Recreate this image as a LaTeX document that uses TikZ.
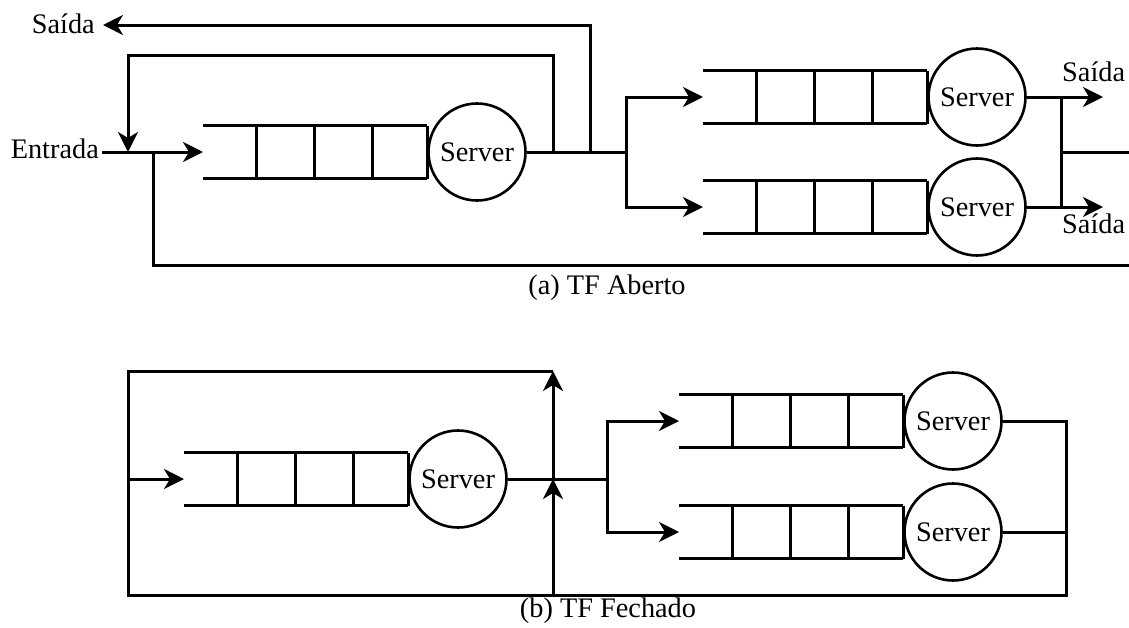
\documentclass[tikz,border=0pt]{standalone}
\usepackage{fontspec}
\setmainfont{Liberation Serif}
\newfontfamily\tnr{Liberation Serif}
\usetikzlibrary{arrows.meta}
\tikzset{
  ln/.style={line width=3pt, line join=miter},
  arr/.style={ln, -{Stealth[length=20pt,width=20pt,inset=6pt]}},
  server/.style={circle, draw, line width=2.6pt, minimum size=97pt, inner sep=0pt},
  lbl/.style={inner sep=0pt, font=\tnr\fontsize{28.3}{34}\selectfont},
  queue/.pic={
    \draw[ln] (0,-26.5) -- (224,-26.5) (0,26.5) -- (224,26.5)
      (53,-26.5) -- (53,26.5) (111,-26.5) -- (111,26.5)
      (169,-26.5) -- (169,26.5) (224,-26.5) -- (224,26.5);
  }
}
\begin{document}
\begin{tikzpicture}[x=1pt,y=-1pt,font=\tnr\fontsize{28.3}{34}\selectfont]
\useasboundingbox (0,0) rectangle (1129,627);

% ---------- (a) TF Aberto ----------
\node[lbl, anchor=base east] (saida) at (95,33) {Saída};
\node[lbl, anchor=base east] (entrada) at (99,158) {Entrada};
\coordinate (sout) at (103,25);
\coordinate (ein) at (102,152);
\coordinate (j1) at (128,152);
\coordinate (j2) at (153,152);
\coordinate (j3) at (553,152);
\coordinate (j4) at (590,152);
\coordinate (j5) at (626,152);
\coordinate (fbtop) at (128,55);
\coordinate (rend) at (1129,265);

\pic at (203,152) {queue};
\coordinate (q1) at (203,152);
\node[server] (s1) at (477,152) {Server};

\pic at (703,97) {queue};
\coordinate (q2) at (703,97);
\node[server] (s2) at (977,97) {Server};
\pic at (703,207) {queue};
\coordinate (q3) at (703,207);
\node[server] (s3) at (977,207) {Server};

\coordinate (k1) at (1061,97);
\coordinate (k2) at (1061,207);
\coordinate (k3) at (1061,152);
\coordinate (kend) at (1129,152);
\coordinate (o2) at (1103,97);
\coordinate (o3) at (1103,207);
\node[lbl, anchor=base west] (saida2) at (1062,81) {Saída};
\node[lbl, anchor=base west] (saida3) at (1062,233) {Saída};

\draw[arr] (ein) -- (q1);
\draw[arr] (j3) |- (fbtop) -- (j1);
\draw[arr] (j4) |- (sout);
\draw[ln] (j2) |- (rend);
\draw[ln] (s1.east) -- (j5);
\draw[arr] (j5) |- (q2);
\draw[arr] (j5) |- (q3);
\draw[arr] (s2.east) -- (o2);
\draw[arr] (s3.east) -- (o3);
\draw[ln] (k1) -- (k2);
\draw[ln] (k3) -- (kend);

\node[lbl, anchor=base] (capa) at (607,294) {(a) TF Aberto};

% ---------- (b) TF Fechado ----------
\coordinate (bl) at (128,479);
\coordinate (btl) at (128,371);
\coordinate (bbl) at (128,595);
\coordinate (jt) at (553,371);
\coordinate (jb) at (553,479);
\coordinate (jbot) at (553,595);
\coordinate (jb5) at (607,479);
\coordinate (kb1) at (1066,421);
\coordinate (kb2) at (1066,532);
\coordinate (kb3) at (1066,595);

\pic at (184,479) {queue};
\coordinate (qb1) at (184,479);
\node[server] (sb1) at (458,479) {Server};
\pic at (679,421) {queue};
\coordinate (qb2) at (679,421);
\node[server] (sb2) at (953,421) {Server};
\pic at (679,532) {queue};
\coordinate (qb3) at (679,532);
\node[server] (sb3) at (953,532) {Server};

\draw[arr] (bl) -- (qb1);
\draw[ln] (sb2.east) -- (kb1) -- (kb3) -- (bbl) -- (btl) -- (jt);
\draw[ln] (sb3.east) -- (kb2);
\draw[arr] (jbot) -- (jb);
\draw[arr] (jb) -- (jt);
\draw[ln] (sb1.east) -- (jb5);
\draw[arr] (jb5) |- (qb2);
\draw[arr] (jb5) |- (qb3);

\node[lbl, anchor=base] (capb) at (608,617) {(b) TF Fechado};
\end{tikzpicture}
\end{document}
